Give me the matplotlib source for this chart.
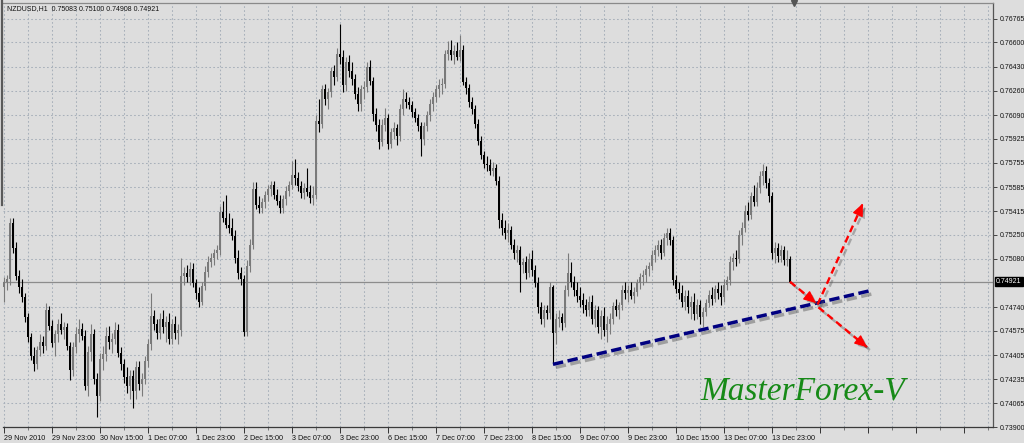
import matplotlib
matplotlib.use("Agg")
import matplotlib.pyplot as plt
import matplotlib.patheffects as pe
from matplotlib.lines import Line2D
from matplotlib import font_manager

# ---------------- data ----------------
symbol_header = "NZDUSD,H1  0.75083 0.75100 0.74908 0.74921"
last_price = 0.74921

open_ = [
 .7488,.7492,.7494,.7533,.7516,.7496,.7488,.7481,.7467,.7453,
 .7440,.7434,.7444,.7450,.7447,.7472,.7461,.7449,.7455,.7462,
 .7458,.7460,.7447,.7430,.7446,.7455,.7459,.7454,.7419,.7443,
 .7455,.7424,.7412,.7438,.7441,.7454,.7450,.7452,.7458,.7442,
 .7434,.7425,.7419,.7426,.7415,.7432,.7420,.7424,.7436,.7448,
 .7468,.7462,.7456,.7466,.7460,.7464,.7452,.7462,.7456,.7458,
 .7496,.7498,.7495,.7501,.7491,.7484,.7478,.7489,.7499,.7506,
 .7509,.7512,.7514,.7541,.7537,.7532,.7530,.7524,.7509,.7498,
 .7494,.7457,.7503,.7518,.7557,.7546,.7544,.7548,.7553,.7557,
 .7560,.7553,.7549,.7544,.7550,.7556,.7560,.7567,.7565,.7559,
 .7554,.7558,.7555,.7551,.7553,.7605,.7603,.7627,.7620,.7625,
 .7640,.7636,.7652,.7650,.7630,.7646,.7640,.7634,.7624,.7617,
 .7627,.7629,.7643,.7633,.7610,.7602,.7590,.7602,.7607,.7589,
 .7597,.7600,.7594,.7613,.7620,.7618,.7616,.7611,.7607,.7601,
 .7592,.7601,.7609,.7617,.7622,.7627,.7630,.7631,.7652,.7655,
 .7651,.7654,.7650,.7655,.7632,.7628,.7618,.7613,.7603,.7591,
 .7581,.7575,.7574,.7570,.7572,.7563,.7535,.7530,.7526,.7528,
 .7518,.7512,.7514,.7504,.7506,.7498,.7508,.7500,.7491,.7474,
 .7466,.7472,.7470,.7488,.7456,.7466,.7467,.7463,.7486,.7498,
 .7492,.7486,.7482,.7479,.7476,.7472,.7478,.7466,.7472,.7460,
 .7468,.7458,.7462,.7466,.7475,.7472,.7476,.7486,.7484,.7486,
 .7482,.7485,.7491,.7495,.7497,.7501,.7503,.7511,.7514,.7518,
 .7512,.7523,.7526,.7521,.7493,.7487,.7484,.7478,.7482,.7474,
 .7478,.7469,.7476,.7467,.7471,.7477,.7483,.7480,.7487,.7484,
 .7481,.7490,.7493,.7506,.7509,.7508,.7525,.7530,.7542,.7539,
 .7552,.7548,.7558,.7566,.7570,.7561,.7552,.7512,.7516,.7510,
 .7514,.7507,.75083]

high = [
 .7495,.7497,.7537,.7537,.7520,.7500,.7494,.7484,.7470,.7456,
 .7446,.7447,.7455,.7454,.7477,.7475,.7465,.7458,.7466,.7470,
 .7464,.7463,.7450,.7450,.7460,.7466,.7463,.7458,.7447,.7462,
 .7459,.7428,.7442,.7447,.7460,.7461,.7456,.7464,.7462,.7446,
 .7438,.7432,.7430,.7430,.7436,.7436,.7428,.7440,.7452,.7484,
 .7472,.7466,.7470,.7472,.7468,.7470,.7466,.7468,.7462,.7509,
 .7502,.7504,.7506,.7505,.7494,.7488,.7492,.7503,.7510,.7512,
 .7515,.7518,.7545,.7549,.7553,.7540,.7537,.7528,.7514,.7502,
 .7497,.7507,.7522,.7562,.7562,.7552,.7551,.7556,.7560,.7563,
 .7563,.7557,.7553,.7553,.7559,.7563,.7577,.7578,.7569,.7563,
 .7561,.7572,.7560,.7559,.7609,.7620,.7630,.7631,.7628,.7643,
 .7644,.7656,.7673,.7655,.7650,.7651,.7646,.7638,.7629,.7630,
 .7633,.7646,.7648,.7636,.7614,.7606,.7606,.7614,.7610,.7600,
 .7604,.7603,.7617,.7627,.7625,.7622,.7619,.7614,.7610,.7604,
 .7604,.7612,.7620,.7625,.7630,.7634,.7635,.7655,.7661,.7662,
 .7658,.7660,.7665,.7658,.7636,.7631,.7622,.7616,.7606,.7594,
 .7584,.7580,.7578,.7576,.7575,.7566,.7540,.7535,.7533,.7531,
 .7522,.7518,.7517,.7509,.7510,.7512,.7514,.7504,.7495,.7478,
 .7476,.7476,.7492,.7490,.7470,.7472,.7470,.7490,.7512,.7506,
 .7496,.7492,.7488,.7484,.7480,.7482,.7483,.7476,.7475,.7472,
 .7474,.7468,.7470,.7478,.7480,.7478,.7490,.7492,.7490,.7492,
 .7488,.7494,.7498,.7500,.7504,.7506,.7514,.7518,.7521,.7522,
 .7526,.7530,.7530,.7524,.7497,.7492,.7490,.7486,.7486,.7482,
 .7484,.7480,.7479,.7474,.7480,.7486,.7488,.7490,.7492,.7490,
 .7494,.7496,.7510,.7512,.7514,.7528,.7534,.7546,.7548,.7555,
 .7560,.7562,.7570,.7575,.7573,.7565,.7555,.7520,.7519,.7518,
 .7517,.7514,.75100]

low = [
 .7478,.7486,.7490,.7512,.7493,.7484,.7478,.7464,.7450,.7437,
 .7429,.7431,.7440,.7442,.7444,.7458,.7446,.7440,.7450,.7455,
 .7452,.7444,.7423,.7426,.7442,.7450,.7451,.7416,.7412,.7436,
 .7420,.7397,.7408,.7430,.7436,.7445,.7442,.7448,.7439,.7430,
 .7421,.7414,.7410,.7403,.7410,.7416,.7412,.7420,.7432,.7444,
 .7458,.7452,.7452,.7456,.7450,.7448,.7448,.7452,.7448,.7454,
 .7490,.7492,.7490,.7488,.7480,.7474,.7476,.7486,.7495,.7502,
 .7504,.7508,.7511,.7534,.7530,.7526,.7521,.7505,.7494,.7490,
 .7454,.7454,.7499,.7515,.7543,.7540,.7540,.7544,.7549,.7552,
 .7550,.7546,.7540,.7540,.7546,.7552,.7557,.7560,.7556,.7551,
 .7550,.7552,.7547,.7546,.7550,.7597,.7600,.7616,.7613,.7622,
 .7630,.7633,.7645,.7625,.7626,.7636,.7630,.7620,.7612,.7612,
 .7620,.7625,.7630,.7605,.7598,.7585,.7587,.7598,.7585,.7586,
 .7592,.7588,.7591,.7609,.7614,.7613,.7608,.7604,.7598,.7580,
 .7588,.7598,.7605,.7612,.7618,.7622,.7624,.7628,.7648,.7648,
 .7645,.7648,.7647,.7630,.7624,.7615,.7610,.7600,.7588,.7578,
 .7572,.7570,.7567,.7566,.7560,.7530,.7525,.7522,.7520,.7515,
 .7508,.7506,.7485,.7498,.7494,.7495,.7496,.7488,.7470,.7462,
 .7460,.7466,.7466,.7434,.7448,.7460,.7458,.7460,.7482,.7488,
 .7482,.7478,.7474,.7470,.7468,.7468,.7462,.7460,.7456,.7452,
 .7454,.7450,.7455,.7462,.7468,.7466,.7472,.7480,.7478,.7480,
 .7477,.7482,.7487,.7490,.7492,.7496,.7500,.7506,.7510,.7508,
 .7510,.7518,.7518,.7490,.7484,.7480,.7474,.7472,.7470,.7466,
 .7465,.7466,.7462,.7460,.7468,.7474,.7476,.7478,.7480,.7476,
 .7478,.7486,.7490,.7500,.7503,.7505,.7518,.7527,.7535,.7536,
 .7545,.7545,.7554,.7560,.7558,.7548,.7508,.7505,.7506,.7506,
 .7504,.7503,.74908]

close = [
 .7492,.7494,.7533,.7516,.7496,.7488,.7481,.7467,.7453,.7440,
 .7434,.7444,.7450,.7447,.7472,.7461,.7449,.7455,.7462,.7458,
 .7460,.7447,.7430,.7446,.7455,.7459,.7454,.7419,.7443,.7455,
 .7424,.7412,.7438,.7441,.7454,.7450,.7452,.7458,.7442,.7434,
 .7425,.7419,.7426,.7415,.7432,.7420,.7424,.7436,.7448,.7468,
 .7462,.7456,.7466,.7460,.7464,.7452,.7462,.7456,.7458,.7496,
 .7498,.7495,.7501,.7491,.7484,.7478,.7489,.7499,.7506,.7509,
 .7512,.7514,.7541,.7537,.7532,.7530,.7524,.7509,.7498,.7494,
 .7457,.7503,.7518,.7557,.7546,.7544,.7548,.7553,.7557,.7560,
 .7553,.7549,.7544,.7550,.7556,.7560,.7567,.7565,.7559,.7554,
 .7558,.7555,.7551,.7553,.7605,.7603,.7627,.7620,.7625,.7640,
 .7636,.7652,.7650,.7630,.7646,.7640,.7634,.7624,.7617,.7627,
 .7629,.7643,.7633,.7610,.7602,.7590,.7602,.7607,.7589,.7597,
 .7600,.7594,.7613,.7620,.7618,.7616,.7611,.7607,.7601,.7592,
 .7601,.7609,.7617,.7622,.7627,.7630,.7631,.7652,.7655,.7651,
 .7654,.7650,.7655,.7632,.7628,.7618,.7613,.7603,.7591,.7581,
 .7575,.7574,.7570,.7572,.7563,.7535,.7530,.7526,.7528,.7518,
 .7512,.7514,.7504,.7506,.7498,.7508,.7500,.7491,.7474,.7466,
 .7472,.7470,.7488,.7456,.7466,.7467,.7463,.7486,.7498,.7492,
 .7486,.7482,.7479,.7476,.7472,.7478,.7466,.7472,.7460,.7468,
 .7458,.7462,.7466,.7475,.7472,.7476,.7486,.7484,.7486,.7482,
 .7485,.7491,.7495,.7497,.7501,.7503,.7511,.7514,.7518,.7512,
 .7523,.7526,.7521,.7493,.7487,.7484,.7478,.7482,.7474,.7478,
 .7469,.7476,.7467,.7471,.7477,.7483,.7480,.7487,.7484,.7481,
 .7490,.7493,.7506,.7509,.7508,.7525,.7530,.7542,.7539,.7552,
 .7548,.7558,.7566,.7570,.7561,.7552,.7512,.7516,.7510,.7514,
 .7507,.7508,.74921]

# time axis labels (every 16 hourly bars)
x_labels = ["29 Nov 2010", "29 Nov 23:00", "30 Nov 15:00", "1 Dec 07:00",
            "1 Dec 23:00", "2 Dec 15:00", "3 Dec 07:00", "3 Dec 23:00",
            "6 Dec 15:00", "7 Dec 07:00", "7 Dec 23:00", "8 Dec 15:00",
            "9 Dec 07:00", "9 Dec 23:00", "10 Dec 15:00", "13 Dec 07:00",
            "13 Dec 23:00"]
y_tick_values = [0.73900, 0.74065, 0.74235, 0.74405, 0.74575, 0.74740,
                 0.75080, 0.75250, 0.75415, 0.75585, 0.75755, 0.75925,
                 0.76090, 0.76260, 0.76430, 0.76600, 0.76765]
y_tick_labels = ["%.5f" % v for v in y_tick_values]

# annotations (bar index, price)
trend_x = [183, 289.3]
trend_y = [0.7434, 0.7486]
arrow_down_to_line = [(262, 0.7492), (270.7, 0.7477)]
arrow_up = [(271.2, 0.7476), (286.3, 0.7547)]
arrow_down = [(271.5, 0.7474), (287.7, 0.7446)]
watermark = "MasterForex-V"

# ---------------- fonts ----------------
avail = {f.name for f in font_manager.fontManager.ttflist}
small_font = "Liberation Sans" if "Liberation Sans" in avail else "DejaVu Sans"
narrow_font = "Liberation Sans Narrow" if "Liberation Sans Narrow" in avail else small_font
serif_font = "Liberation Serif" if "Liberation Serif" in avail else "DejaVu Serif"

# ---------------- figure ----------------
BG = "#dddddd"
W, H = 1024, 443
fig = plt.figure(figsize=(W / 100, H / 100), dpi=100, facecolor=BG)
ax = fig.add_axes([3 / W, 16 / H, 990 / W, 424 / H], facecolor=BG)

n = len(close)
xs = list(range(n))
ax.set_xlim(-1 / 3, 329.67)
ax.set_ylim(0.73900, 0.76877)

# grid
grid_col = "#a8b0ba"
ax.set_xticks(list(range(0, 321, 16)))
ax.set_xticks(list(range(8, 329, 16)), minor=True)
ax.set_yticks(y_tick_values)
ax.grid(True, which="both", axis="x", color=grid_col, linestyle=(0, (1.6, 2.2)), lw=0.75)
ax.grid(True, which="major", axis="y", color=grid_col, linestyle=(0, (1.6, 2.2)), lw=0.75)
ax.set_axisbelow(True)

# current price line
ax.axhline(last_price, color="#8c8c8c", lw=0.9, zorder=1)

# candles
up_col, dn_col = "#7a7a7a", "#000000"
cols = [up_col if c >= o else dn_col for o, c in zip(open_, close)]
ax.vlines(xs, low, high, colors=cols, lw=0.8, zorder=3)
bottoms = [min(o, c) for o, c in zip(open_, close)]
heights = [max(abs(c - o), 0.00003) for o, c in zip(open_, close)]
ax.bar(xs, heights, bottom=bottoms, width=0.62, color=cols, lw=0, zorder=4)

# trend line with shadow
ax.plot(trend_x, trend_y, color="#000080", lw=2.5, ls=(0, (3, 1.3)),
        solid_capstyle="butt", dash_capstyle="butt", zorder=6,
        path_effects=[pe.SimpleLineShadow(offset=(2, -2.2), shadow_color="#555555", alpha=0.45),
                      pe.Normal()])

# red arrows with shadows
def red_arrow(seg):
    (x0, y0), (x1, y1) = seg
    ax.plot([x0, x1], [y0, y1], color="#ff0000", lw=1.7, ls=(0, (3, 1.8)),
            dash_capstyle="butt", zorder=7,
            path_effects=[pe.SimpleLineShadow(offset=(2, -2), shadow_color="#555555", alpha=0.4),
                          pe.Normal()])
    ax.annotate("", xy=(x1, y1), xytext=(x1 - (x1 - x0) * 0.02, y1 - (y1 - y0) * 0.02),
                arrowprops=dict(arrowstyle="-|>,head_length=0.75,head_width=0.33",
                                color="#ff0000", lw=1.0, shrinkA=0, shrinkB=0,
                                path_effects=[pe.SimplePatchShadow(offset=(2, -2), shadow_rgbFace="#555555", alpha=0.4),
                                              pe.Normal()]),
                zorder=8)

red_arrow(arrow_down_to_line)
red_arrow(arrow_up)
red_arrow(arrow_down)

# axes styling
ax.spines["left"].set_visible(False)
ax.spines["bottom"].set_color("#3a3a3a")
ax.spines["right"].set_color("#555555")
ax.spines["top"].set_color("#8a8a8a")
for s in ["bottom", "right", "top"]:
    ax.spines[s].set_linewidth(0.9)

ax.yaxis.tick_right()
ax.set_yticklabels(y_tick_labels, fontsize=5.0, family=small_font, color="#111111")
ax.tick_params(axis="y", which="major", direction="out", length=3, width=0.7,
               color="#444444", pad=1.5, left=False)
labels_full = x_labels + [""] * (21 - len(x_labels))
ax.set_xticklabels(labels_full, fontsize=5.2, family=narrow_font, color="#111111",
                   ha="left")
ax.tick_params(axis="x", which="major", direction="out", length=4, width=0.7,
               color="#333333", pad=1.5)
ax.tick_params(axis="x", which="minor", direction="out", length=2, width=0.6,
               color="#666666")

# current price label (black box)
ax.text(1.0 + 3 / 990, last_price, "%.5f" % last_price, transform=ax.get_yaxis_transform(),
        ha="left", va="center", fontsize=5.0, family=small_font, color="white",
        bbox=dict(boxstyle="square,pad=0.15", fc="black", ec="black"), clip_on=False)

# header text
fig.text(7 / W, 1 - 9 / H, symbol_header, ha="left", va="center",
         fontsize=5.0, family=small_font, color="#111111")

# chart shift marker
ax.plot([263.5], [0.76877], marker="v", color="#555555", ms=4, clip_on=False, zorder=9)

# left window edge
fig.add_artist(Line2D([1.5 / W, 1.5 / W], [1, 1 - 205 / H], color="#5a5a5a", lw=1.6))

# watermark
fig.text(803 / W, 1 - 391 / H, watermark, ha="center", va="center", color="#178a17",
         fontsize=24, family=serif_font, style="italic")

fig.savefig("out.png", dpi=100, facecolor=BG)
